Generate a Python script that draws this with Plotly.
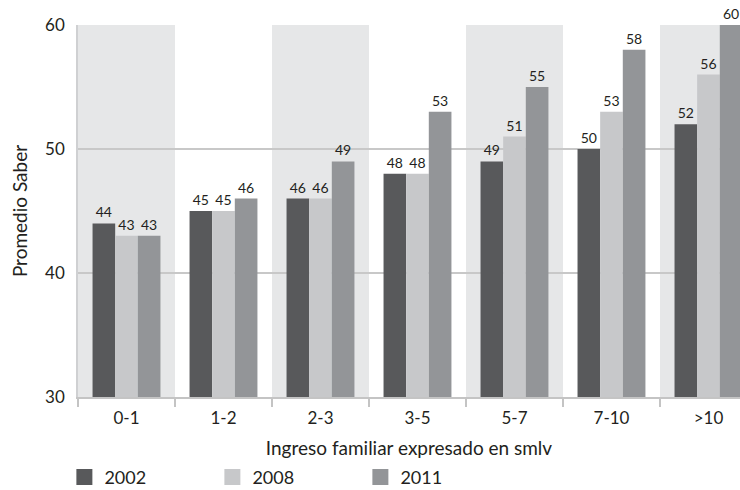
import plotly.graph_objects as go

# Income brackets (in smlv) and average Saber score per year
categories = ["0-1", "1-2", "2-3", "3-5", "5-7", "7-10", ">10"]
years = ["2002", "2008", "2011"]
scores_2002 = [44, 45, 46, 48, 49, 50, 52]
scores_2008 = [43, 45, 46, 48, 51, 53, 56]
scores_2011 = [43, 46, 49, 53, 55, 58, 60]
y_ticks = [30, 40, 50, 60]

colors = {"2002": "#58595b", "2008": "#c7c8ca", "2011": "#939598"}
series = {"2002": scores_2002, "2008": scores_2008, "2011": scores_2011}

FONT = "Lato"
TEXT = "#231f20"

fig = go.Figure()
for yr in years:
    fig.add_trace(go.Bar(
        x=categories, y=series[yr], name=yr,
        marker=dict(color=colors[yr], line=dict(width=0)),
        text=series[yr], texttemplate="%{y:.0f}", textposition="outside",
        textfont=dict(family=FONT, size=14, color=TEXT),
        cliponaxis=False, showlegend=False,
    ))
    # legend entry drawn as a larger square swatch
    fig.add_trace(go.Scatter(
        x=[None], y=[None], mode="markers", name=yr,
        marker=dict(symbol="square", size=16, color=colors[yr]),
        showlegend=True,
    ))

# alternating shaded bands behind the category groups
for i in range(0, len(categories), 2):
    fig.add_shape(type="rect", xref="x", yref="paper",
                  x0=i - 0.5, x1=i + 0.5, y0=0, y1=1,
                  fillcolor="#e6e7e8", line=dict(width=0), layer="below")

fig.update_layout(
    width=740, height=490,
    margin=dict(l=78, r=0, t=25, b=93, autoexpand=False),
    paper_bgcolor="white", plot_bgcolor="white",
    barmode="group", bargap=0.3, bargroupgap=0,
    font=dict(family=FONT, color=TEXT),
    legend=dict(orientation="h", xref="container", yref="container",
                x=0.087, y=0.026, xanchor="left", yanchor="middle",
                entrywidth=103, entrywidthmode="pixels",
                font=dict(family=FONT, size=18, color=TEXT),
                bgcolor="rgba(0,0,0,0)", itemclick=False),
    xaxis=dict(
        type="category", range=[-0.5, 6.325], automargin=False,
        showline=True, linecolor="#c4c4c4", linewidth=1.5,
        ticks="outside", tickson="boundaries", ticklen=8,
        tickcolor="#c4c4c4", tickwidth=1.5, ticklabelstandoff=5,
        showgrid=False,
        tickfont=dict(family=FONT, size=17, color=TEXT),
        title=dict(text="Ingreso familiar expresado en smlv",
                   font=dict(family=FONT, size=19, color=TEXT), standoff=20),
    ),
    yaxis=dict(
        range=[30, 60], tickvals=y_ticks, automargin=False,
        showline=True, linecolor="#cfd0d2", linewidth=1.5,
        showgrid=True, gridcolor="#c8c8c8", gridwidth=1.5,
        zeroline=False, ticks="", ticklabelstandoff=8,
        tickfont=dict(family=FONT, size=17, color=TEXT),
        title=dict(text="Promedio Saber",
                   font=dict(family=FONT, size=19, color=TEXT), standoff=12),
    ),
)

fig.write_html("out.html")
